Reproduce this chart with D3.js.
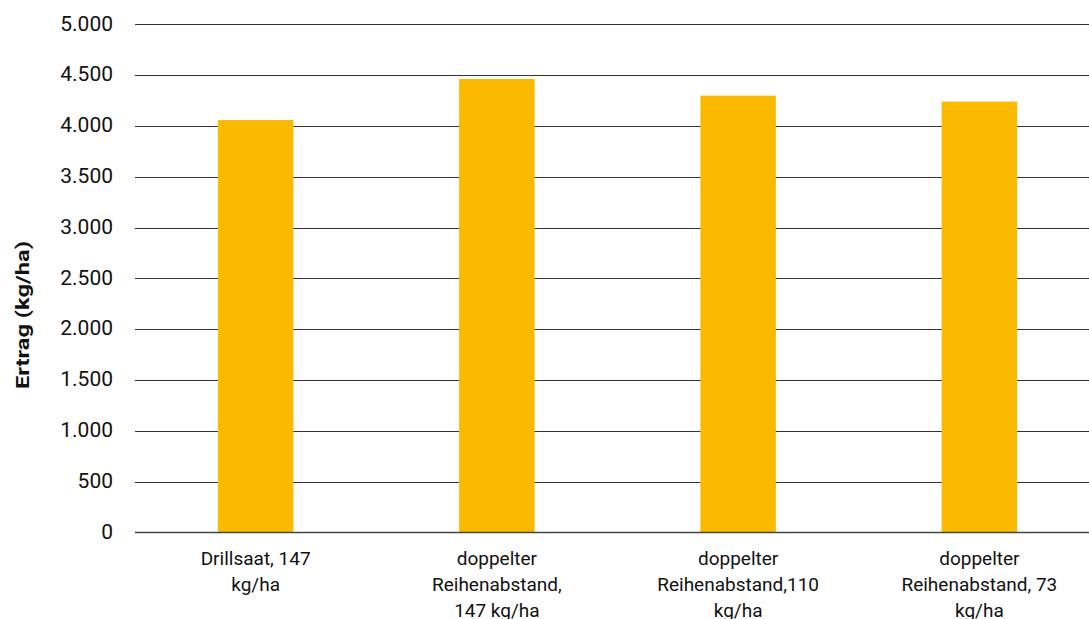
<!DOCTYPE html>
<html>
<head>
<meta charset="utf-8">
<script src="https://cdn.jsdelivr.net/npm/d3@7"></script>
<style>
  html, body { margin: 0; padding: 0; background: #fff; }
  svg { display: block; }
  text { font-family: Roboto, "Noto Sans", sans-serif; fill: #111; }
</style>
</head>
<body>
<svg id="chart" width="1089" height="619"></svg>
<script>
// Data
const categories = ["Drillsaat, 147 kg/ha", "doppelter Reihenabstand, 147 kg/ha", "doppelter Reihenabstand,110 kg/ha", "doppelter Reihenabstand, 73 kg/ha"];
const categoryLines = [
  ["Drillsaat, 147", "kg/ha"],
  ["doppelter", "Reihenabstand,", "147 kg/ha"],
  ["doppelter", "Reihenabstand,110", "kg/ha"],
  ["doppelter", "Reihenabstand, 73", "kg/ha"]
];
const yields = [4058, 4462, 4298, 4239];
const yTicks = [0, 500, 1000, 1500, 2000, 2500, 3000, 3500, 4000, 4500, 5000];
const yTickLabels = ["0", "500", "1.000", "1.500", "2.000", "2.500", "3.000", "3.500", "4.000", "4.500", "5.000"];
const yTitle = "Ertrag (kg/ha)";

const W = 1089, H = 619;
const svg = d3.select("#chart");
const plotLeft = 135, plotRight = 1100, plotTop = 24.3, plotBottom = 532.5;

const x = d3.scaleBand().domain(categories).range([plotLeft, plotRight]).paddingInner(0.687).paddingOuter(0.3435);
const y = d3.scaleLinear().domain([0, 5000]).range([plotBottom, plotTop]);

// gridlines
svg.append("g").selectAll("line").data(yTicks.filter(d => d > 0)).join("line")
  .attr("x1", plotLeft).attr("x2", W)
  .attr("y1", d => Math.round(y(d)) + 0.5).attr("y2", d => Math.round(y(d)) + 0.5)
  .attr("stroke", "#333").attr("stroke-width", 1);

// bars
svg.append("g").selectAll("rect").data(yields).join("rect")
  .attr("x", (d, i) => x(categories[i]))
  .attr("width", x.bandwidth())
  .attr("y", d => y(d))
  .attr("height", d => y(0) - y(d))
  .attr("fill", "#FBBA00");

// zero line
svg.append("line").attr("x1", plotLeft).attr("x2", W)
  .attr("y1", y(0)).attr("y2", y(0))
  .attr("stroke", "#444").attr("stroke-width", 1.5);

// y tick labels
const yAxis = d3.axisLeft(y).tickValues(yTicks).tickSize(0).tickPadding(0)
  .tickFormat((d, i) => yTickLabels[i]);
const gy = svg.append("g").attr("transform", `translate(113,-1)`).call(yAxis);
gy.select(".domain").remove();
gy.selectAll("text").style("font-family", "Roboto, sans-serif").style("font-size", "21px").attr("fill", "#111");

// x labels
const gx = svg.append("g");
categories.forEach((c, i) => {
  const cx = x(c) + x.bandwidth() / 2;
  const t = gx.append("text").attr("text-anchor", "middle").style("font-size", "19px");
  categoryLines[i].forEach((ln, j) => {
    t.append("tspan").attr("x", cx).attr("y", 565 + j * 26).text(ln);
  });
});

// y title
svg.append("text")
  .attr("transform", `translate(29,315) rotate(-90)`)
  .attr("text-anchor", "middle")
  .attr("textLength", 148).attr("lengthAdjust", "spacingAndGlyphs")
  .style("font-size", "19px").style("font-weight", "bold")
  .text(yTitle);
</script>
</body>
</html>
